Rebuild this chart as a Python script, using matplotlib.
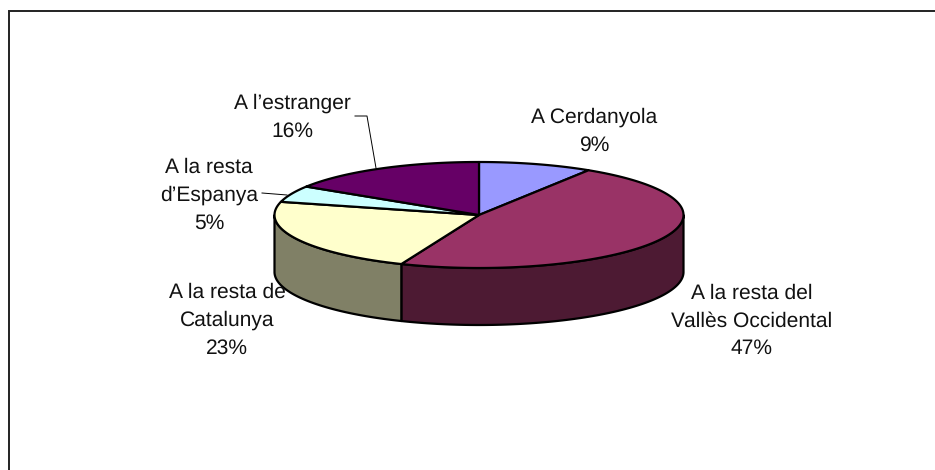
import numpy as np
import matplotlib
matplotlib.use("Agg")
import matplotlib.pyplot as plt

labels = ["A Cerdanyola\n9%", "A la resta del\nVallès Occidental\n47%", "A la resta de\nCatalunya\n23%",
          "A la resta\nd\u2019Espanya\n5%", "A l\u2019estranger\n16%"]
values = [9, 47.2, 22.8, 5, 16]
top_colors = ["#9999FF", "#993366", "#FFFFCC", "#CCFFFF", "#660066"]
side_colors = ["#4D4D80", "#4D1A33", "#808066", "#668080", "#330033"]

plt.rcParams["font.family"] = ["Liberation Sans", "DejaVu Sans"]
plt.rcParams["text.hinting"] = "no_hinting"
plt.rcParams["text.hinting_factor"] = 1

W, H = 935, 470
fig = plt.figure(figsize=(W / 100, H / 100), dpi=100)
ax = fig.add_axes([0, 0, 1, 1])
ax.set_xlim(0, W)
ax.set_ylim(H, 0)
ax.axis("off")

# pie geometry in pixels
cx, cy = 479, 215
rx, ry = 204.5, 53
depth = 57
lw = 1.6


def ell(deg):
    a = np.radians(deg)
    return cx + rx * np.sin(a), cy - ry * np.cos(a)


# frame: only the top and left edges are visible
ax.plot([8.5, 8.5, W], [H, 10.8, 10.8], color="#222222", lw=1.4, zorder=1, solid_joinstyle="miter")

edges = np.concatenate([[0], np.cumsum(values)]) * 3.6

# side wall first, only the part facing front (90..270 deg)
for i in range(len(values)):
    a0 = max(edges[i], 90)
    a1 = min(edges[i + 1], 270)
    if a1 <= a0:
        continue
    t = np.linspace(a0, a1, 120)
    x, y = ell(t)
    ax.fill(np.r_[x, x[::-1]], np.r_[y, y[::-1] + depth], facecolor=side_colors[i],
            edgecolor="black", lw=lw, zorder=2, joinstyle="round")

# top face
for i in range(len(values)):
    t = np.linspace(edges[i], edges[i + 1], 160)
    x, y = ell(t)
    ax.fill(np.r_[cx, x], np.r_[cy, y], facecolor=top_colors[i],
            edgecolor="black", lw=lw, zorder=3, joinstyle="round")

# labels
fs = 15.4
label_pos = [(594, 131), (751.5, 321), (227, 320.5), (209, 195.5), (292, 117)]
for lab, (lx, ly) in zip(labels, label_pos):
    ax.text(lx, ly, lab, ha="center", va="center", fontsize=fs, color="#111111",
            linespacing=1.54, zorder=5)

# leader lines
ax.plot([355, 367, 376], [116, 116, 168], color="black", lw=0.7, zorder=4)
ax.plot([262, 287], [193, 195], color="black", lw=0.7, zorder=4)

fig.savefig("out.png", dpi=100, facecolor="white")
